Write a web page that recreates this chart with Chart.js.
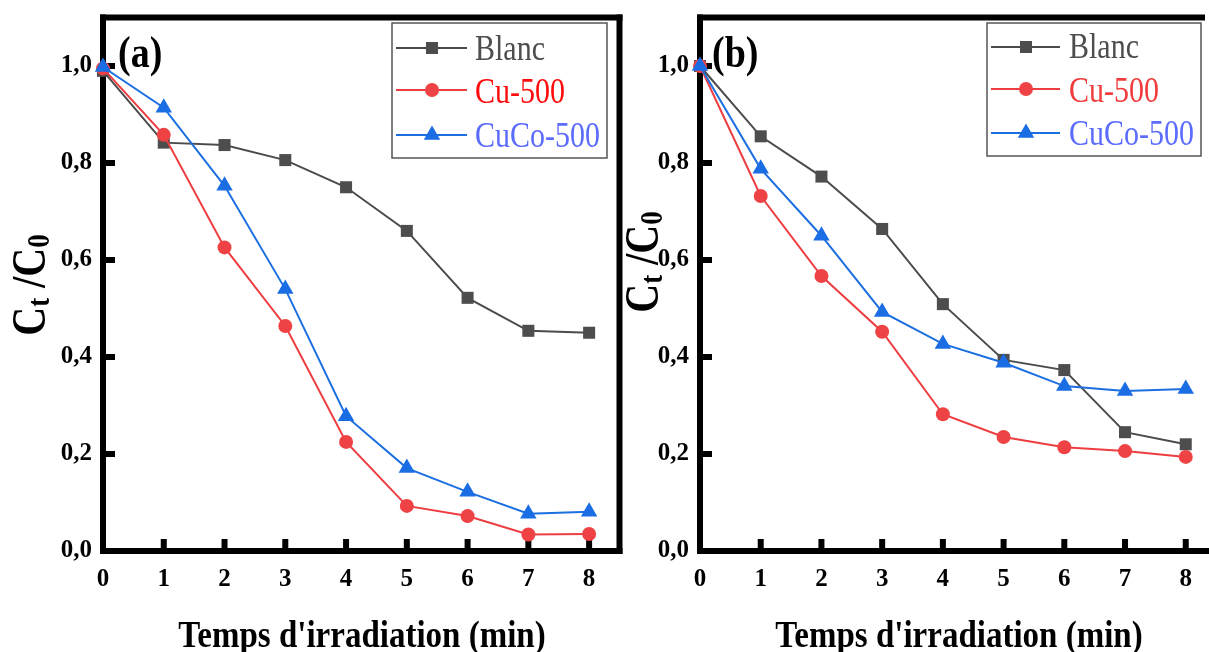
<!DOCTYPE html>
<html>
<head>
<meta charset="utf-8">
<script src="https://cdn.jsdelivr.net/npm/chart.js@4/dist/chart.umd.min.js"></script>
<style>
  body { margin: 0; background: #fff; }
  #wrap { position: relative; width: 1209px; height: 652px; overflow: hidden; background: #fff; }
  canvas { position: absolute; top: 0; }
</style>
</head>
<body>
<div id="wrap">
  <canvas id="panelA" width="630" height="652" style="left:0"></canvas>
  <canvas id="panelB" width="600" height="652" style="left:622px"></canvas>
</div>
<script>
const timeMin = [0, 1, 2, 3, 4, 5, 6, 7, 8]
const xTickValues = [0, 1, 2, 3, 4, 5, 6, 7, 8]
const yTickValues = [0, 0.2, 0.4, 0.6, 0.8, 1.0]
const seriesNames = ["Blanc", "Cu-500", "CuCo-500"]

// (a)
const blancA = [0.99, 0.842, 0.837, 0.806, 0.75, 0.66, 0.522, 0.454, 0.45]
const cu500A = [0.995, 0.858, 0.626, 0.464, 0.225, 0.093, 0.072, 0.034, 0.035]
const cuco500A = [0.998, 0.914, 0.753, 0.54, 0.278, 0.171, 0.122, 0.077, 0.081]

// (b)
const blancB = [1.0, 0.855, 0.772, 0.664, 0.509, 0.394, 0.373, 0.245, 0.22]
const cu500B = [1.0, 0.732, 0.567, 0.452, 0.282, 0.235, 0.214, 0.206, 0.194]
const cuco500B = [1.0, 0.788, 0.65, 0.493, 0.427, 0.388, 0.34, 0.33, 0.334]

const seriesStyle = [
  { line: "#4b4b4b", point: "#4d4d4d", pointStyle: "rect", radius: 8.5 },
  { line: "#ee3d40", point: "#ef4244", pointStyle: "circle", radius: 7 },
  { line: "#1c6fe0", point: "#1a6de3", pointStyle: "triangle", radius: 9.5 }
]

const serif = "'Liberation Serif', 'Times New Roman', serif"

// text stretched vertically, drawn from its baseline
function stretchText(ctx, text, x, y, font, color, sy, align) {
  ctx.save()
  ctx.translate(x, y)
  ctx.scale(1, sy)
  ctx.font = font
  ctx.fillStyle = color
  ctx.textAlign = align || "left"
  ctx.textBaseline = "alphabetic"
  ctx.fillText(text, 0, 0)
  ctx.restore()
}

function drawMarker(ctx, style, x, y) {
  ctx.fillStyle = style.point
  ctx.strokeStyle = style.point
  Chart.helpers.drawPoint(ctx, {
    pointStyle: style.pointStyle, radius: style.radius, rotation: 0, borderWidth: 0
  }, x, y)
}

const panelDecor = {
  id: "panelDecor",
  beforeDatasetsDraw(chart, args, o) {
    const ctx = chart.ctx
    const { left, right, top, bottom } = chart.chartArea
    const xs = chart.scales.x
    const ys = chart.scales.y
    ctx.save()
    ctx.fillStyle = "#000"
    // frame
    ctx.fillRect(left - 3, top - 3, (o.rightBorder ? right + 3 : o.topEnd) - (left - 3), 6)
    ctx.fillRect(left - 3, top - 3, 6, bottom - top + 6)
    ctx.fillRect(left - 3, bottom - 3, (o.rightBorder ? right + 3 : chart.width) - (left - 3), 6)
    if (o.rightBorder) ctx.fillRect(right - 3, top - 3, 6, bottom - top + 6)
    // inward ticks
    xTickValues.forEach(v => {
      if (v === 0) return
      const px = xs.getPixelForValue(v)
      ctx.fillRect(px - 3, bottom - 12, 6, 12)
    })
    yTickValues.forEach(v => {
      if (v === 0) return
      const py = ys.getPixelForValue(v)
      ctx.fillRect(left, py - 3, 12, 6)
    })
    ctx.restore()
  },
  afterDraw(chart, args, o) {
    const ctx = chart.ctx
    ctx.save()

    // panel letter
    stretchText(ctx, o.letter, o.letterX, 67, "bold 38px " + serif, "#000", 1.15)

    // legend
    const lg = o.legend
    ctx.strokeStyle = "#555"
    ctx.lineWidth = 1.5
    ctx.strokeRect(lg.x, lg.y, lg.w, lg.h)
    seriesNames.forEach((name, i) => {
      const st = seriesStyle[i]
      const ry = lg.rows[i]
      ctx.strokeStyle = st.line
      ctx.lineWidth = 2
      ctx.beginPath()
      ctx.moveTo(lg.x1, ry)
      ctx.lineTo(lg.x2, ry)
      ctx.stroke()
      drawMarker(ctx, st, lg.mx, ry)
      stretchText(ctx, name, lg.tx, lg.base[i], "30px " + serif, lg.colors[i], 1.22)
    })

    // x axis title
    stretchText(ctx, "Temps d'irradiation (min)", o.xTitleX, 647, "bold 33px " + serif, "#000", 1.15, "center")

    // y axis title: C_t /C_0, rotated
    const main = "bold 40px " + serif
    const sub = "bold 27px " + serif
    const parts = [["C", main, 0], ["t", sub, 3], [" /", main, 0], ["C", main, 0], ["0", sub, 3]]
    let total = 0
    parts.forEach(p => { ctx.font = p[1]; total += ctx.measureText(p[0]).width })
    ctx.translate(o.yTitleX, o.yTitleY)
    ctx.rotate(-Math.PI / 2)
    ctx.scale(1, 1.2)
    ctx.fillStyle = "#000"
    ctx.textBaseline = "alphabetic"
    ctx.textAlign = "left"
    let cx = -total / 2
    parts.forEach(p => {
      ctx.font = p[1]
      ctx.fillText(p[0], cx, p[2])
      cx += ctx.measureText(p[0]).width
    })
    ctx.restore()
  }
}

function makePanel(id, values, p) {
  const datasets = values.map((vals, i) => ({
    label: seriesNames[i],
    data: vals.map((v, j) => ({ x: timeMin[j], y: v })),
    borderColor: seriesStyle[i].line,
    backgroundColor: seriesStyle[i].point,
    pointBackgroundColor: seriesStyle[i].point,
    pointBorderColor: seriesStyle[i].point,
    pointBorderWidth: 0,
    pointStyle: seriesStyle[i].pointStyle,
    pointRadius: seriesStyle[i].radius,
    borderWidth: 2,
    tension: 0,
    clip: false,
    order: 2 - i
  }))

  const tickFont = { family: serif, size: 25, weight: "bold" }

  const chart = new Chart(document.getElementById(id), {
    type: "line",
    data: { datasets },
    options: {
      responsive: false,
      animation: false,
      layout: { padding: { top: 17.5, right: p.padRight, bottom: 0, left: 0 } },
      scales: {
        x: {
          type: "linear",
          min: 0,
          max: p.xMax,
          grid: { display: false, drawTicks: false },
          border: { display: false },
          afterBuildTicks: s => { s.ticks = xTickValues.map(v => ({ value: v })) },
          ticks: {
            padding: 14, font: tickFont, color: "#000",
            maxRotation: 0, autoSkip: false,
            callback: v => String(v)
          },
          afterFit: s => {
            s.height = p.xAxisHeight
            s.paddingLeft = 0
            s.paddingRight = 0
          }
        },
        y: {
          min: 0,
          max: 1.1,
          grid: { display: false, drawTicks: false },
          border: { display: false },
          afterBuildTicks: s => { s.ticks = yTickValues.map(v => ({ value: v })) },
          ticks: {
            padding: 11, font: tickFont, color: "#000",
            callback: v => v.toFixed(1).replace(".", ",")
          },
          afterFit: s => {
            s.width = p.yAxisWidth
            s.paddingTop = 0
            s.paddingBottom = 0
          }
        }
      },
      plugins: {
        legend: { display: false },
        tooltip: { enabled: false },
        panelDecor: p.decor
      }
    },
    plugins: [panelDecor]
  })

  // nudge the right padding so the plot area ends where the frame should be
  for (let k = 0; k < 2; k++) {
    const err = p.plotRight - chart.chartArea.right
    if (Math.abs(err) < 0.3) break
    const pad = chart.options.layout.padding
    chart.options.layout.padding = { top: 17.5, right: pad.right - err, bottom: 0, left: 0 }
    chart.update()
  }
  return chart
}

makePanel("panelA", [blancA, cu500A, cuco500A], {
  xMax: 8.5, padRight: 11, plotRight: 619.5, yAxisWidth: 103, xAxisHeight: 101,
  decor: {
    letter: "(a)", letterX: 118, rightBorder: true,
    legend: {
      x: 392, y: 23, w: 215, h: 135, x1: 396, x2: 467, mx: 432, tx: 475,
      rows: [48, 90, 135], base: [60, 103, 147],
      colors: ["#4d4d4d", "#ff0b0b", "#5b6bfb"]
    },
    xTitleX: 362, yTitleX: 45, yTitleY: 285
  }
})

makePanel("panelB", [blancB, cu500B, cuco500B], {
  xMax: 8.35, padRight: 15, plotRight: 585, yAxisWidth: 78, xAxisHeight: 101,
  decor: {
    letter: "(b)", letterX: 90, rightBorder: false, topEnd: 583,
    legend: {
      x: 365, y: 23, w: 214, h: 133, x1: 369, x2: 438, mx: 404, tx: 447,
      rows: [47, 89, 133], base: [58, 102, 145],
      colors: ["#4d4d4d", "#f03c3c", "#5b6cff"]
    },
    xTitleX: 337, yTitleX: 36, yTitleY: 262
  }
})
</script>
</body>
</html>
